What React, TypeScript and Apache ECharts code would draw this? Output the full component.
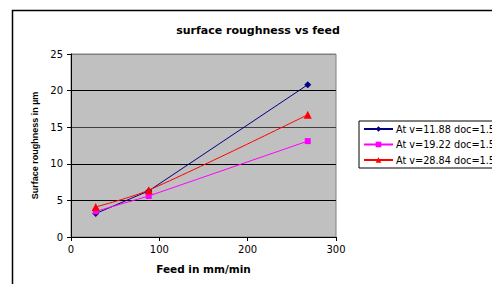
import React, { useEffect, useRef } from "react";
import * as echarts from "echarts";

const feed = [28, 88, 268];
const seriesNames = ["At v=11.88 doc=1.5", "At v=19.22 doc=1.5", "At v=28.84 doc=1.5"];
const roughnessV1 = [3.2, 6.3, 20.8];
const roughnessV2 = [3.5, 5.6, 13.1];
const roughnessV3 = [4.1, 6.4, 16.7];
const titleText = "surface roughness vs feed";
const xName = "Feed in mm/min";
const yName = "Surface roughness in µm";

export default function App() {
  const ref = useRef<HTMLDivElement>(null);
  useEffect(() => {
    if (!ref.current) return;
    const chart = echarts.init(ref.current, null, { renderer: "svg" });
    const pts = (ys: number[]) => feed.map((x, i) => [x, ys[i]]);
    const font = "DejaVu Sans";
    chart.setOption({
      animation: false,
      backgroundColor: "#fff",
      title: {
        text: titleText,
        left: 253,
        top: 20,
        textAlign: "center",
        textStyle: { fontFamily: font, fontSize: 11, fontWeight: "bold", color: "#000" },
      },
      graphic: [
        {
          type: "rect",
          left: 10,
          top: 8,
          shape: { width: 600, height: 400 },
          style: { fill: "none", stroke: "#000", lineWidth: 1.5 },
          silent: true,
        },
      ],
      grid: {
        left: 71,
        top: 54,
        width: 265,
        height: 183,
        show: true,
        backgroundColor: "#C0C0C0",
        borderColor: "#808080",
        borderWidth: 1,
      },
      legend: {
        orient: "vertical",
        left: 359,
        top: 121,
        borderColor: "#000",
        borderWidth: 1,
        borderRadius: 0,
        padding: [3, 5, 3, 4],
        itemWidth: 29,
        itemHeight: 7,
        itemGap: 5.5,
        textStyle: { fontFamily: font, fontSize: 9.7, color: "#000", padding: [0, 0, 0, -2] },
        data: seriesNames,
      },
      xAxis: {
        type: "value",
        min: 0,
        max: 300,
        interval: 100,
        name: xName,
        nameLocation: "middle",
        nameGap: 26,
        nameTextStyle: { fontFamily: font, fontSize: 10.5, fontWeight: "bold", color: "#000" },
        axisLine: { show: true, onZero: false, lineStyle: { color: "#000", width: 1 } },
        axisTick: { show: true, length: 4, lineStyle: { color: "#000" } },
        axisLabel: { fontFamily: font, fontSize: 10, color: "#000", margin: 7 },
        splitLine: { show: false },
      },
      yAxis: {
        type: "value",
        min: 0,
        max: 25,
        interval: 5,
        name: yName,
        nameLocation: "middle",
        nameGap: 30,
        nameTextStyle: { fontFamily: "Liberation Sans", fontSize: 9, fontWeight: "bold", color: "#000" },
        axisLine: { show: true, lineStyle: { color: "#000", width: 1 } },
        axisTick: { show: true, length: 4, lineStyle: { color: "#000" } },
        axisLabel: { fontFamily: font, fontSize: 10, color: "#000", margin: 8 },
        splitLine: {
          show: true,
          lineStyle: { color: ["#000", "#000", "#000", "#404040", "#000", "#808080"], width: 1 },
        },
      },
      series: [
        {
          name: seriesNames[0],
          type: "line",
          data: pts(roughnessV1),
          symbol: "diamond",
          symbolSize: 7,
          lineStyle: { color: "#000080", width: 1 },
          itemStyle: { color: "#000080" },
        },
        {
          name: seriesNames[1],
          type: "line",
          data: pts(roughnessV2),
          symbol: "rect",
          symbolSize: 6,
          lineStyle: { color: "#FF00FF", width: 1 },
          itemStyle: { color: "#FF00FF" },
        },
        {
          name: seriesNames[2],
          type: "line",
          data: pts(roughnessV3),
          symbol: "triangle",
          symbolSize: 8,
          smooth: 0.3,
          lineStyle: { color: "#FF0000", width: 1 },
          itemStyle: { color: "#FF0000" },
        },
      ],
    });
    return () => chart.dispose();
  }, []);
  return (
    <div
      ref={ref}
      style={{ position: "fixed", left: 0, top: 0, width: 492, height: 284 }}
    />
  );
}
